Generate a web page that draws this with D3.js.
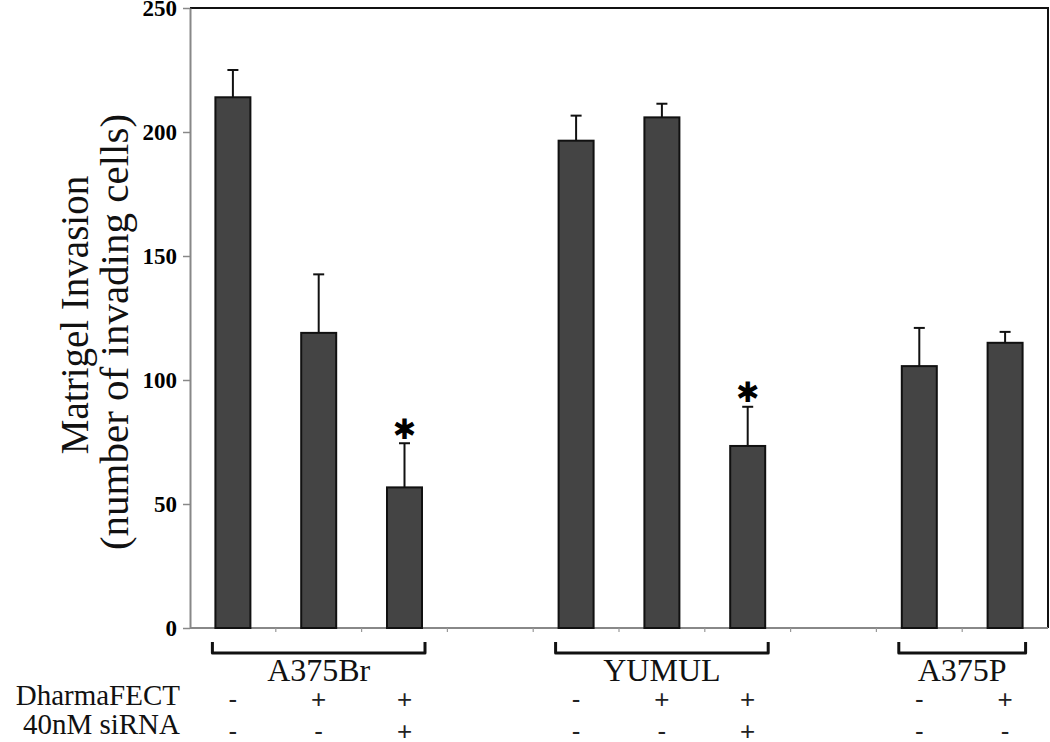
<!DOCTYPE html>
<html><head><meta charset="utf-8">
<script src="https://cdn.jsdelivr.net/npm/d3@7"></script>
<style>body{margin:0;background:#fff}svg{display:block}</style>
</head><body>
<svg id="c" width="1050" height="742"></svg>
<script>
const groups = ["A375Br", "YUMUL", "A375P"];
const barGroup = ["A375Br","A375Br","A375Br","YUMUL","YUMUL","YUMUL","A375P","A375P"];
const dharmaFECT = ["-","+","+","-","+","+","-","+"];
const siRNA = ["-","-","+","-","-","+","-","-"];
const values = [214, 119, 56.7, 196.5, 205.9, 73.4, 105.6, 115];
const errors = [11, 23.6, 17.8, 10.1, 5.5, 15.8, 15.4, 4.4];
const significant = [false,false,true,false,false,true,false,false];
const yTicks = [0, 50, 100, 150, 200, 250];
const rowLabels = ["DharmaFECT", "40nM siRNA"];
const yTitle = ["Matrigel Invasion", "(number of invading cells)"];

const svg = d3.select("#c");
const L = 190, R = 1048, T = 8, B = 628;

// slot domain: bars, with one empty slot between groups
const slots = [];
groups.forEach((g, gi) => {
  if (gi > 0) slots.push("gap" + gi);
  barGroup.forEach((bg, i) => { if (bg === g) slots.push("b" + i); });
});
const x = d3.scaleBand().domain(slots).range([L, R]).padding(0);
const y = d3.scaleLinear().domain([0, 250]).range([B, T]);
const barW = 35;
const cx = i => x("b" + i) + x.bandwidth() / 2;

// frame top/right (black)
svg.append("line").attr("x1", L).attr("x2", R).attr("y1", T).attr("y2", T)
  .attr("stroke", "#111").attr("stroke-width", 2);
svg.append("line").attr("x1", R).attr("x2", R).attr("y1", T - 1).attr("y2", B)
  .attr("stroke", "#111").attr("stroke-width", 2);

// y axis
const yAxis = svg.append("g").attr("transform", `translate(${L},0)`)
  .call(d3.axisLeft(y).tickValues(yTicks).tickSize(7).tickPadding(5).tickSizeOuter(0));
yAxis.select(".domain").attr("stroke", "#888").attr("stroke-width", 2);
yAxis.selectAll(".tick line").attr("stroke", "#888").attr("stroke-width", 1.5);
yAxis.selectAll(".tick text").attr("font-family", "Liberation Serif").attr("font-weight", "bold")
  .attr("font-size", 23).attr("fill", "#000").attr("dx", -1);

// x axis
const bounds = [L].concat(slots.map(s => x(s) + x.bandwidth()));
svg.append("line").attr("x1", L).attr("x2", R).attr("y1", B).attr("y2", B)
  .attr("stroke", "#888").attr("stroke-width", 2);
svg.selectAll(".xt").data(bounds.slice(1, -1)).enter().append("line")
  .attr("x1", d => d).attr("x2", d => d).attr("y1", B).attr("y2", B + 4)
  .attr("stroke", "#999").attr("stroke-width", 1.2);

// bars
const idx = values.map((v, i) => i);
svg.selectAll(".bar").data(idx).enter().append("rect")
  .attr("x", i => cx(i) - barW / 2).attr("width", barW)
  .attr("y", i => y(values[i])).attr("height", i => y(0) - y(values[i]))
  .attr("fill", "#444").attr("stroke", "#111").attr("stroke-width", 2);

// error bars (upper only)
svg.selectAll(".err").data(idx).enter().append("line")
  .attr("x1", cx).attr("x2", cx)
  .attr("y1", i => y(values[i])).attr("y2", i => y(values[i] + errors[i]))
  .attr("stroke", "#111").attr("stroke-width", 2);
svg.selectAll(".cap").data(idx).enter().append("line")
  .attr("x1", i => cx(i) - 5.5).attr("x2", i => cx(i) + 5.5)
  .attr("y1", i => y(values[i] + errors[i])).attr("y2", i => y(values[i] + errors[i]))
  .attr("stroke", "#111").attr("stroke-width", 2);

// significance markers
svg.selectAll(".sig").data(idx.filter(i => significant[i])).enter().append("text")
  .attr("x", cx).attr("y", i => y(values[i] + errors[i]) - 14)
  .attr("text-anchor", "middle").attr("dominant-baseline", "central")
  .attr("font-family", "DejaVu Sans").attr("font-size", 28).attr("fill", "#000")
  .text("\u2731");

// group brackets + labels
groups.forEach(g => {
  const members = idx.filter(i => barGroup[i] === g);
  const x0 = cx(members[0]) - barW / 2 - 3;
  const x1 = cx(members[members.length - 1]) + barW / 2 + 3;
  svg.append("path")
    .attr("d", `M${x0},642 L${x0},653 L${x1},653 L${x1},642`)
    .attr("fill", "none").attr("stroke", "#111").attr("stroke-width", 3)
    .attr("stroke-linejoin", "round");
  svg.append("text").attr("x", (x0 + x1) / 2).attr("y", 681)
    .attr("text-anchor", "middle").attr("font-family", "Liberation Serif")
    .attr("font-size", 32).attr("fill", "#111").text(g);
});

// condition rows
const rows = [dharmaFECT, siRNA];
const rowY = [708, 740];
const labelY = [705, 734];
rows.forEach((row, r) => {
  svg.append("text").attr("x", 180).attr("y", labelY[r])
    .attr("text-anchor", "end").attr("font-family", "Liberation Serif")
    .attr("font-size", 29).attr("fill", "#111").text(rowLabels[r]);
  svg.selectAll(".r" + r).data(idx).enter().append("text")
    .attr("x", cx).attr("y", rowY[r])
    .attr("text-anchor", "middle").attr("font-family", "Liberation Sans")
    .attr("font-size", 26).attr("fill", "#222").text(i => row[i]);
});

// y title
const titleX = [88, 128];
const titleY = [315, 332];
const titleSize = [39, 41];
yTitle.forEach((t, k) => {
  svg.append("text").attr("transform", `translate(${titleX[k]},${titleY[k]}) rotate(-90)`)
    .attr("text-anchor", "middle").attr("font-family", "Liberation Serif")
    .attr("font-size", titleSize[k]).attr("fill", "#111").text(t);
});
</script>
</body></html>
